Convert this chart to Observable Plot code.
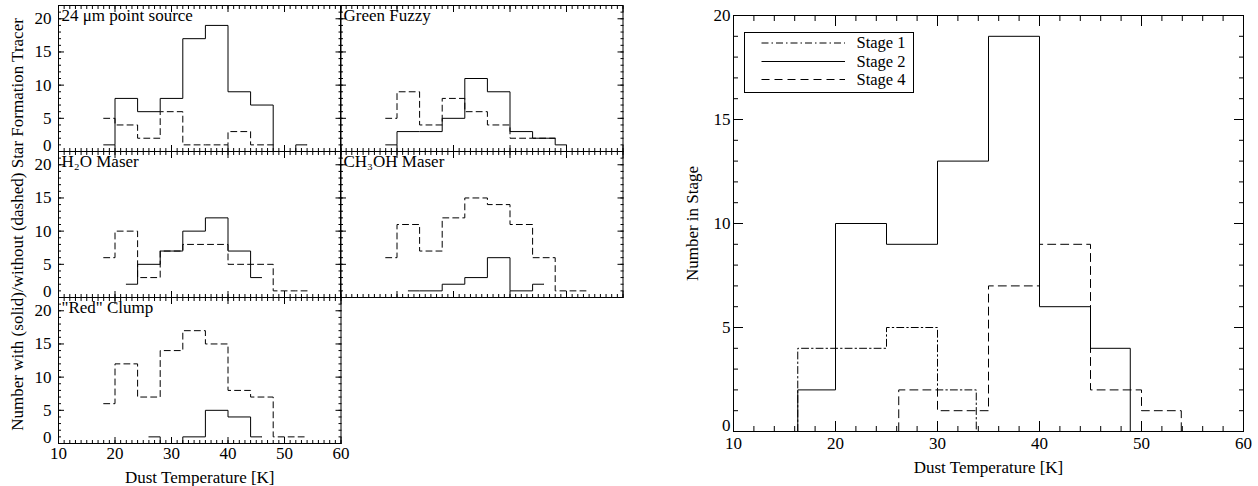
<!DOCTYPE html>
<html>
<head>
<meta charset="utf-8">
<script src="https://cdn.jsdelivr.net/npm/d3@7"></script>
<script src="https://cdn.jsdelivr.net/npm/@observablehq/plot@0.6"></script>
<style>
html, body { margin: 0; padding: 0; background: #fff; }
#chart { position: relative; width: 1258px; height: 486px; overflow: hidden; background: #fff; color: #000;
  font-family: "Liberation Serif", "Times New Roman", Times, serif; }
#chart svg { position: absolute; overflow: visible; }
</style>
</head>
<body>
<div id="chart"></div>
<script>
// ---------------- DATA ----------------
const panelTitles = ["24 μm point source", "Green Fuzzy", "H₂O Maser", "CH₃OH Maser", "\"Red\" Clump"];
const leftYTitle = "Number with (solid)/without (dashed) Star Formation Tracer";
const xTitle = "Dust Temperature [K]";
const rightYTitle = "Number in Stage";

const xTickValues = [10, 20, 30, 40, 50, 60];
const yTickValues = [0, 5, 10, 15, 20];

// 24 μm point source
const pt24SolidEdges = [18, 20, 24, 28, 32, 36, 40, 44, 48, 52, 54];
const pt24SolidCounts = [1, 8, 6, 8, 17, 19, 9, 7, 0, 1];
const pt24DashedEdges = [18, 20, 24, 28, 32, 36, 40, 44, 48];
const pt24DashedCounts = [5, 4, 2, 6, 1, 1, 3, 1];
// Green Fuzzy
const gfSolidEdges = [18, 20, 24, 28, 32, 36, 40, 44, 48, 50];
const gfSolidCounts = [1, 3, 3, 5, 11, 9, 3, 2, 1];
const gfDashedEdges = [18, 20, 24, 28, 32, 36, 40, 44, 48];
const gfDashedCounts = [5, 9, 4, 8, 6, 4, 2, 2];
// H2O Maser
const h2oSolidEdges = [22, 24, 28, 32, 36, 40, 44, 46];
const h2oSolidCounts = [2, 5, 7, 10, 12, 7, 3];
const h2oDashedEdges = [18, 20, 24, 28, 32, 36, 40, 44, 48, 52, 54];
const h2oDashedCounts = [6, 10, 3, 7, 8, 8, 5, 5, 1, 1];
// CH3OH Maser
const ch3ohSolidEdges = [22, 24, 28, 32, 36, 40, 44, 46];
const ch3ohSolidCounts = [1, 1, 2, 3, 6, 1, 2];
const ch3ohDashedEdges = [18, 20, 24, 28, 32, 36, 40, 44, 48, 52, 54];
const ch3ohDashedCounts = [6, 11, 7, 12, 15, 14, 11, 6, 1, 1];
// "Red" Clump
const redSolidEdges = [26, 28, 32, 36, 40, 44, 46];
const redSolidCounts = [1, 0, 1, 5, 4, 1];
const redDashedEdges = [18, 20, 24, 28, 32, 36, 40, 44, 48, 52, 54];
const redDashedCounts = [6, 12, 7, 14, 17, 15, 8, 7, 1, 1];

// Right panel: stages
const stageNames = ["Stage 1", "Stage 2", "Stage 4"];
const stage1Edges = [16.3, 20, 25, 30, 33.8];
const stage1Counts = [4, 4, 5, 2];
const stage2Edges = [15, 16.3, 20, 25, 30, 35, 40, 45, 48.9];
const stage2Counts = [0, 2, 10, 9, 13, 19, 6, 4];
const stage4Edges = [25, 26.2, 30, 35, 40, 45, 50, 53.9];
const stage4Counts = [0, 2, 1, 7, 9, 2, 1];

// ---------------- STYLES ----------------
const SOLID = null;
const DASHED_L = "6,4";
const DASHED_R = "8,5";
const DASHDOT_R = "7,3,1.5,3";
const FONT = '"Liberation Serif", "Times New Roman", Times, serif';

function stepPoints(edges, counts, closed) {
  const pts = counts.map((c, i) => ({x: edges[i], y: c}));
  pts.push({x: edges[edges.length - 1], y: counts[counts.length - 1]});
  if (closed) {
    pts.unshift({x: edges[0], y: 0});
    pts.push({x: edges[edges.length - 1], y: 0});
  }
  return pts;
}

const chart = document.getElementById("chart");

function makePanel(cfg) {
  const m = {l: 80, r: 30, t: 20, b: 60};
  const marks = [Plot.frame({stroke: "black", strokeWidth: 1})];
  for (const anchor of ["bottom", "top"]) {
    marks.push(Plot.axisX(cfg.xMajor, {anchor, tickSize: -cfg.majorLen, fill: "none", label: null}));
    marks.push(Plot.axisX(cfg.xMinor, {anchor, tickSize: -cfg.minorLen, fill: "none", label: null}));
  }
  for (const anchor of ["left", "right"]) {
    marks.push(Plot.axisY(cfg.yMajor, {anchor, tickSize: -cfg.majorLen, fill: "none", label: null}));
    marks.push(Plot.axisY(cfg.yMinor, {anchor, tickSize: -cfg.minorLen, fill: "none", label: null}));
  }
  if (cfg.xLabels) {
    marks.push(Plot.axisX(cfg.xMajor, {anchor: "bottom", tickSize: 0, tickPadding: cfg.xPad,
      label: cfg.xTitle || null, labelAnchor: "center", labelOffset: cfg.xTitleOffset, labelArrow: "none"}));
  }
  if (cfg.yLabels) {
    marks.push(Plot.axisY(cfg.yMajor.filter(v => v !== 0), {anchor: "left", tickSize: 0, tickPadding: cfg.yPad,
      label: cfg.yTitle || null, labelAnchor: "center", labelOffset: cfg.yTitleOffset, labelArrow: "none"}));
    marks.push(Plot.axisY(cfg.yMajor.filter(v => v === 0), {anchor: "left", tickSize: 0, tickPadding: cfg.yPad,
      dy: cfg.zeroDy, label: null}));
  }
  if (cfg.title) {
    marks.push(Plot.text([cfg.title], {text: d => d, frameAnchor: "top-left", textAnchor: "start",
      lineAnchor: "top", dx: 3, dy: 3, fontSize: 17}));
  }
  for (const s of cfg.series) {
    marks.push(Plot.line(stepPoints(s.edges, s.counts, s.closed), {
      x: "x", y: "y", curve: "step-after", stroke: "black", strokeWidth: 1,
      strokeDasharray: s.dash || undefined
    }));
  }
  const svg = Plot.plot({
    width: cfg.W + m.l + m.r,
    height: cfg.H + m.t + m.b,
    marginLeft: m.l, marginRight: m.r, marginTop: m.t, marginBottom: m.b,
    x: {domain: cfg.xDomain, axis: null},
    y: {domain: cfg.yDomain, axis: null},
    style: {background: "transparent", overflow: "visible", fontFamily: FONT, fontSize: "17px", color: "black"},
    marks
  });
  svg.style.position = "absolute";
  svg.style.left = (cfg.L - m.l) + "px";
  svg.style.top = (cfg.T - m.t) + "px";
  chart.appendChild(svg);
}

const leftW = 282.5, leftH = 146;
const leftCommon = {
  W: leftW, H: leftH, xDomain: [10, 60], yDomain: [0, 22],
  xMajor: xTickValues, xMinor: d3.range(10, 61, 1),
  yMajor: yTickValues, yMinor: d3.range(0, 23, 1),
  majorLen: 6, minorLen: 3, yPad: 7, zeroDy: -5.5, xPad: 3
};

makePanel({...leftCommon, L: 57.5, T: 5, title: panelTitles[0], yLabels: true,
  series: [{edges: pt24SolidEdges, counts: pt24SolidCounts, dash: SOLID},
           {edges: pt24DashedEdges, counts: pt24DashedCounts, dash: DASHED_L}]});
makePanel({...leftCommon, L: 340, T: 5, title: panelTitles[1],
  series: [{edges: gfSolidEdges, counts: gfSolidCounts, dash: SOLID},
           {edges: gfDashedEdges, counts: gfDashedCounts, dash: DASHED_L}]});
makePanel({...leftCommon, L: 57.5, T: 151, title: panelTitles[2], yLabels: true,
  yTitle: leftYTitle, yTitleOffset: 48,
  series: [{edges: h2oSolidEdges, counts: h2oSolidCounts, dash: SOLID},
           {edges: h2oDashedEdges, counts: h2oDashedCounts, dash: DASHED_L}]});
makePanel({...leftCommon, L: 340, T: 151, title: panelTitles[3],
  series: [{edges: ch3ohSolidEdges, counts: ch3ohSolidCounts, dash: SOLID},
           {edges: ch3ohDashedEdges, counts: ch3ohDashedCounts, dash: DASHED_L}]});
makePanel({...leftCommon, L: 57.5, T: 297, title: panelTitles[4], yLabels: true, xLabels: true,
  xTitle: xTitle, xTitleOffset: 39,
  series: [{edges: redSolidEdges, counts: redSolidCounts, dash: SOLID},
           {edges: redDashedEdges, counts: redDashedCounts, dash: DASHED_L}]});

// Right panel
const stageDashes = [DASHDOT_R, SOLID, DASHED_R];
makePanel({
  L: 733, T: 15, W: 510, H: 416, xDomain: [10, 60], yDomain: [0, 20],
  xMajor: xTickValues, xMinor: d3.range(10, 61, 2),
  yMajor: yTickValues, yMinor: d3.range(0, 21, 1),
  majorLen: 10, minorLen: 5, yPad: 3, zeroDy: -6, xPad: 5,
  xLabels: true, xTitle: xTitle, xTitleOffset: 41,
  yLabels: true, yTitle: rightYTitle, yTitleOffset: 48,
  series: [
    {edges: stage1Edges, counts: stage1Counts, dash: stageDashes[0], closed: true},
    {edges: stage2Edges, counts: stage2Counts, dash: stageDashes[1], closed: true},
    {edges: stage4Edges, counts: stage4Counts, dash: stageDashes[2], closed: true}
  ]
});

// Legend (right panel)
const legend = d3.select(chart).append("svg")
  .style("position", "absolute").style("left", "744px").style("top", "32px")
  .attr("width", 170).attr("height", 61);
legend.append("rect").attr("x", 0.5).attr("y", 0.5).attr("width", 169).attr("height", 60)
  .attr("fill", "white").attr("stroke", "black").attr("stroke-width", 1);
const legendRows = [11, 29.5, 47.5];
stageNames.forEach((name, i) => {
  legend.append("line").attr("x1", 17.5).attr("x2", 101).attr("y1", legendRows[i]).attr("y2", legendRows[i])
    .attr("stroke", "black").attr("stroke-width", 1)
    .attr("stroke-dasharray", stageDashes[i] || null);
  legend.append("text").attr("x", 112.5).attr("y", legendRows[i]).attr("dy", "0.32em")
    .attr("font-family", FONT).attr("font-size", 16.5).attr("fill", "black").text(name);
});
</script>
</body>
</html>
